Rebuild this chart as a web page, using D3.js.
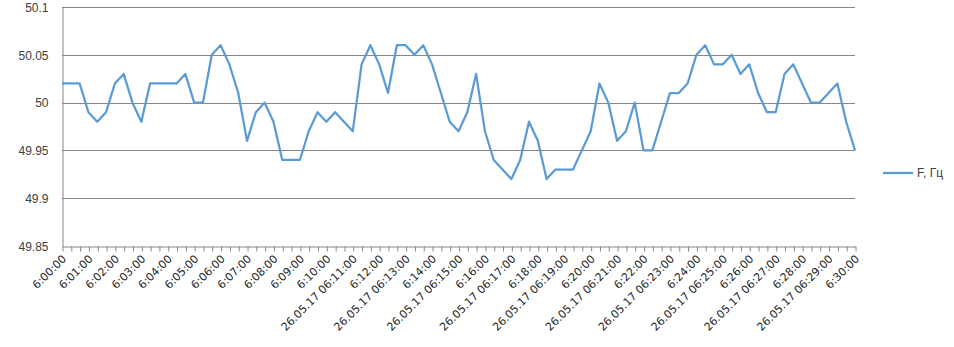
<!DOCTYPE html>
<html>
<head>
<meta charset="utf-8">
<script src="https://cdn.jsdelivr.net/npm/d3@7"></script>
<style>
  body { margin: 0; background: #fff; }
  svg { font-family: "Liberation Sans", Arial, sans-serif; }
</style>
</head>
<body>
<div id="chart"></div>
<script>
// data: frequency every 20 s, 6:00:00 .. 6:30:00
const freq = [
  50.02, 50.02, 50.02, 49.99, 49.98, 49.99, 50.02, 50.03, 50.00, 49.98,
  50.02, 50.02, 50.02, 50.02, 50.03, 50.00, 50.00, 50.05, 50.06, 50.04,
  50.01, 49.96, 49.99, 50.00, 49.98, 49.94, 49.94, 49.94, 49.97, 49.99,
  49.98, 49.99, 49.98, 49.97, 50.04, 50.06, 50.04, 50.01, 50.06, 50.06,
  50.05, 50.06, 50.04, 50.01, 49.98, 49.97, 49.99, 50.03, 49.97, 49.94,
  49.93, 49.92, 49.94, 49.98, 49.96, 49.92, 49.93, 49.93, 49.93, 49.95,
  49.97, 50.02, 50.00, 49.96, 49.97, 50.00, 49.95, 49.95, 49.98, 50.01,
  50.01, 50.02, 50.05, 50.06, 50.04, 50.04, 50.05, 50.03, 50.04, 50.01,
  49.99, 49.99, 50.03, 50.04, 50.02, 50.00, 50.00, 50.01, 50.02, 49.98,
  49.95
];

// one label per minute (every 3rd point)
const timeLabels = [
  "6:00:00", "6:01:00", "6:02:00", "6:03:00", "6:04:00", "6:05:00",
  "6:06:00", "6:07:00", "6:08:00", "6:09:00", "6:10:00",
  "26.05.17 06:11:00", "6:12:00", "26.05.17 06:13:00", "6:14:00",
  "26.05.17 06:15:00", "6:16:00", "26.05.17 06:17:00", "6:18:00",
  "26.05.17 06:19:00", "6:20:00", "26.05.17 06:21:00", "6:22:00",
  "26.05.17 06:23:00", "6:24:00", "26.05.17 06:25:00", "6:26:00",
  "26.05.17 06:27:00", "6:28:00", "26.05.17 06:29:00", "6:30:00"
];

const yTicks = [49.85, 49.9, 49.95, 50, 50.05, 50.1];
const seriesName = "F, Гц";

const width = 954;
const height = 347;
const plot = { left: 62, right: 855, top: 7, bottom: 246 };
const lineColor = "#5b9bd5";
const gridColor = "#868686";

const svg = d3.select("#chart").append("svg")
  .attr("width", width)
  .attr("height", height);

const x = d3.scalePoint()
  .domain(d3.range(freq.length))
  .range([plot.left, plot.right]);

const y = d3.scaleLinear()
  .domain([49.85, 50.1])
  .range([plot.bottom, plot.top]);

// horizontal gridlines
svg.append("g")
  .selectAll("line")
  .data(yTicks.slice(1))
  .enter()
  .append("line")
  .attr("x1", plot.left)
  .attr("x2", plot.right)
  .attr("y1", d => Math.round(y(d)) + 0.5)
  .attr("y2", d => Math.round(y(d)) + 0.5)
  .attr("stroke", gridColor)
  .attr("stroke-width", 1);

// y axis
const yAxis = svg.append("g")
  .attr("transform", `translate(${plot.left + 0.5}, 0.5)`)
  .call(d3.axisLeft(y).tickValues(yTicks).tickSize(0).tickPadding(14)
    .tickFormat(d => d3.format("")(+d.toFixed(2))));
yAxis.select(".domain").attr("stroke", gridColor);
yAxis.selectAll("text")
  .style("font-size", "12px")
  .attr("fill", "#404040");

// x axis
const xAxis = svg.append("g")
  .attr("transform", `translate(0.5, ${Math.round(plot.bottom) + 0.5})`)
  .call(d3.axisBottom(x).tickSize(5).tickSizeOuter(0)
    .tickFormat(i => i % 3 === 0 ? timeLabels[i / 3] : ""));
xAxis.select(".domain").attr("stroke", gridColor);
xAxis.selectAll(".tick line").attr("stroke", gridColor);
xAxis.selectAll("text")
  .style("font-family", "'DejaVu Sans', sans-serif")
  .style("font-size", "11px")
  .attr("fill", "#262626")
  .attr("text-anchor", "end")
  .attr("y", 0)
  .attr("dy", 0)
  .attr("transform", "translate(4, 13) rotate(-45)");

// series line
svg.append("path")
  .datum(freq)
  .attr("fill", "none")
  .attr("stroke", lineColor)
  .attr("stroke-width", 2.25)
  .attr("stroke-linejoin", "round")
  .attr("d", d3.line()
    .x((d, i) => x(i))
    .y(d => y(d)));

// legend
const legend = svg.append("g")
  .attr("transform", "translate(883, 173)");
legend.append("line")
  .attr("x1", 0)
  .attr("x2", 30)
  .attr("stroke", lineColor)
  .attr("stroke-width", 2.25);
legend.append("text")
  .attr("x", 34)
  .attr("dy", "0.35em")
  .style("font-size", "12px")
  .attr("fill", "#404040")
  .text(seriesName);
</script>
</body>
</html>
